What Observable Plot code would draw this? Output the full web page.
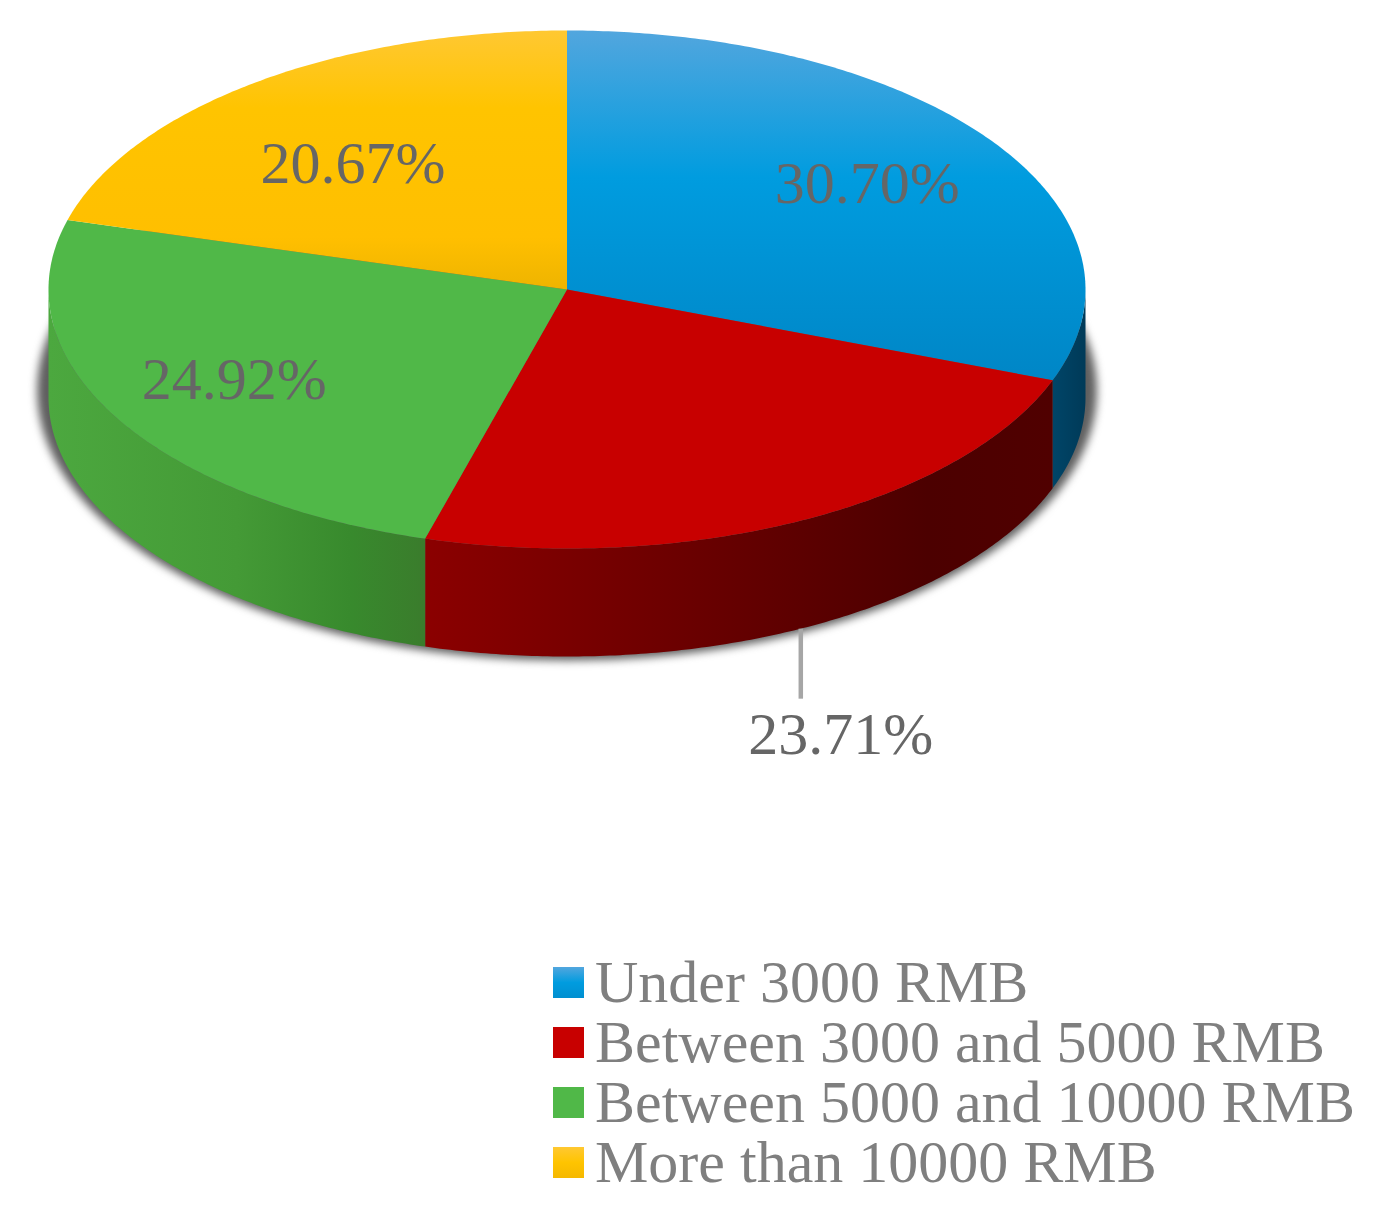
<!DOCTYPE html>
<html>
<head>
<meta charset="utf-8">
<script src="https://cdn.jsdelivr.net/npm/d3@7"></script>
<script src="https://cdn.jsdelivr.net/npm/@observablehq/plot@0.6"></script>
<style>
html,body{margin:0;padding:0;background:#fff}
svg{display:block}
#legend{margin-left:553px;font-family:"Liberation Serif",serif;font-size:60px;line-height:60px;color:#7f7f7f;white-space:nowrap}
#legend .row{display:flex;align-items:center;height:60px}
#legend .sw{width:31px;height:31px;margin-right:11px;flex:none}
</style>
</head>
<body>
<div id="chart"></div>
<script>
const categories = ["Under 3000 RMB", "Between 3000 and 5000 RMB", "Between 5000 and 10000 RMB", "More than 10000 RMB"];
const shares = [30.70, 23.71, 24.92, 20.67];
const faceStops = [
  [[0, "#52a6de"], [0.42, "#009cdf"], [1, "#0086c6"]],
  [[0, "#c80000"], [1, "#c80000"]],
  [[0, "#50b848"], [1, "#50b848"]],
  [[0, "#ffc832"], [0.3, "#ffc400"], [0.8, "#ffbf00"], [1, "#eeb400"]]
];
const wallStops = [
  [[0, "#004568"], [1, "#003a58"]],
  [[0, "#8b0000"], [0.5, "#640000"], [0.8, "#4c0000"], [1, "#500000"]],
  [[0, "#4ca83f"], [0.5, "#449a36"], [0.8, "#388a2d"], [1, "#3a7c2c"]],
  [[0, "#000"], [1, "#000"]]
];
const legendStops = [
  [[0, "#52a6de"], [0.5, "#009cdf"], [1, "#008fd0"]],
  [[0, "#c80000"], [1, "#c80000"]],
  [[0, "#50b848"], [1, "#50b848"]],
  [[0, "#ffc832"], [0.5, "#ffc400"], [1, "#f5b800"]]
];

const depth = 108 / 259;          // wall height in units of the vertical radius
const total = d3.sum(shares);
const cum = d3.cumsum(shares);
const startAngle = i => (i === 0 ? 0 : cum[i - 1]) / total * 2 * Math.PI;
const endAngle = i => cum[i] / total * 2 * Math.PI;
const midAngle = i => (startAngle(i) + endAngle(i)) / 2;

function arc(a0, a1, dy = 0) {
  const n = Math.max(2, Math.ceil(Math.abs(a1 - a0) / 0.01));
  return d3.range(n + 1).map(k => {
    const a = a0 + (a1 - a0) * k / n;
    return {x: Math.sin(a), y: Math.cos(a) - dy};
  });
}
const facePoints = i => [{x: 0, y: 0}, ...arc(startAngle(i), endAngle(i))];
function wallPoints(i) {
  const a0 = Math.max(startAngle(i), Math.PI / 2);
  const a1 = Math.min(endAngle(i), Math.PI * 1.5);
  if (a1 <= a0) return [];
  return [...arc(a0, a1), ...arc(a1, a0, depth)];
}
const shadowPoints = arc(0, 2 * Math.PI).map(p => ({x: p.x * 1.022, y: p.y * 1.042 - 0.39}));

function gradient(defs, id, stops, vertical) {
  const g = defs.append("linearGradient").attr("id", id)
    .attr("x1", 0).attr("y1", 0).attr("x2", vertical ? 0 : 1).attr("y2", vertical ? 1 : 0);
  stops.forEach(([o, c]) => g.append("stop").attr("offset", o).attr("stop-color", c));
}
const defsMark = () => {
  const defs = d3.create("svg:defs");
  faceStops.forEach((s, i) => gradient(defs, "face" + i, s, true));
  wallStops.forEach((s, i) => gradient(defs, "wall" + i, s, false));
  return defs.node();
};

const label = (i, radial, dx, dy) => Plot.text([{
  x: Math.sin(midAngle(i)) * radial,
  y: Math.cos(midAngle(i)) * radial,
  t: shares[i].toFixed(2) + "%"
}], {x: "x", y: "y", text: "t", dx, dy, fontSize: 60, fill: "#666666",
  fontFamily: "Liberation Serif", textAnchor: "middle", lineAnchor: "middle"});

const redEdge = {x: Math.sin(midAngle(1)), y: Math.cos(midAngle(1)) - depth};

const plot = Plot.plot({
  width: 1379,
  height: 952,
  margin: 0,
  x: {domain: [-1, 1], range: [48, 1085], axis: null},
  y: {domain: [-1, 1], range: [548, 30], axis: null},
  marks: [
    defsMark,
    Plot.line(shadowPoints, {x: "x", y: "y", fill: "#5f5f5f", stroke: "none", imageFilter: "blur(4px)"}),
    ...shares.map((_, i) => Plot.line(wallPoints(i), {x: "x", y: "y", fill: `url(#wall${i})`, stroke: "none"})),
    ...shares.map((_, i) => Plot.line(facePoints(i), {x: "x", y: "y", fill: `url(#face${i})`, stroke: "none"})),
    Plot.link([redEdge], {x1: "x", x2: "x", y1: "y", y2: d => d.y - 70 / 259, stroke: "#a6a6a6", strokeWidth: 4.5}),
    Plot.text([shares[1].toFixed(2) + "%"], {
      x: () => redEdge.x, y: () => redEdge.y - 108 / 259,
      dx: 40, dy: -2, text: d => d, fontSize: 60, fill: "#666666",
      fontFamily: "Liberation Serif", textAnchor: "middle", lineAnchor: "middle"
    }),
    label(0, 0.7, 2, -2),
    label(2, 0.72, -7, -1),
    label(3, 0.66, -7, 10)
  ]
});
document.getElementById("chart").append(plot);

const legend = d3.select("body").append("div").attr("id", "legend");
categories.forEach((c, i) => {
  const row = legend.append("div").attr("class", "row");
  row.append("span").attr("class", "sw")
    .style("background", `linear-gradient(to bottom, ${legendStops[i].map(([o, col]) => `${col} ${o * 100}%`).join(",")})`);
  row.append("span").text(c);
});
</script>
</body>
</html>
